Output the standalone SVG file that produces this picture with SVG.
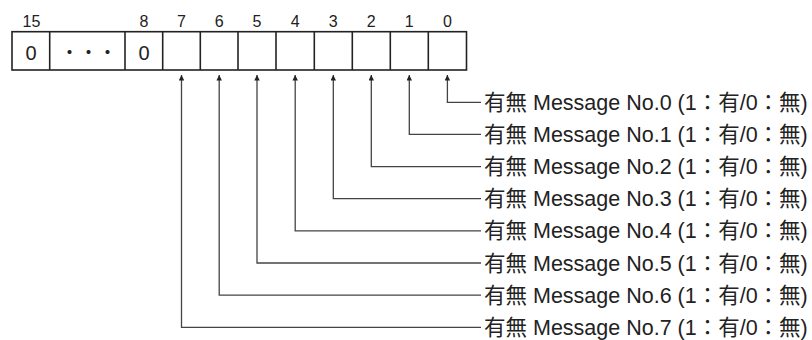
<svg xmlns="http://www.w3.org/2000/svg" width="812" height="340" viewBox="0 0 812 340">
<style>
.box{fill:#fff;stroke:#222;stroke-width:1.6}
.div{stroke:#222;stroke-width:1.6}
.hdr{font-family:"Liberation Sans",Arial,sans-serif;font-size:16px;fill:#222;text-anchor:middle}
.val{font-family:"Liberation Sans",Arial,sans-serif;font-size:20px;fill:#222;text-anchor:middle}
.lbl{font-family:"Liberation Sans","Noto Sans CJK JP",sans-serif;font-size:21.5px;fill:#222}
.con{fill:none;stroke:#444;stroke-width:1.3}
</style>
<defs>
<marker id="ah" viewBox="0 0 10 10" refX="10" refY="5" markerWidth="8" markerHeight="5.5" markerUnits="userSpaceOnUse" orient="auto">
<path d="M0,0 L10,5 L0,10 Z" fill="#222"/>
</marker>
</defs>
<g id="register">
<rect class="box" x="12" y="31.7" width="454.5" height="38.3"/>
<line class="div" x1="49.7" y1="31.7" x2="49.7" y2="70"/>
<line class="div" x1="125" y1="31.7" x2="125" y2="70"/>
<line class="div" x1="162.7" y1="31.7" x2="162.7" y2="70"/>
<line class="div" x1="200.3" y1="31.7" x2="200.3" y2="70"/>
<line class="div" x1="238" y1="31.7" x2="238" y2="70"/>
<line class="div" x1="276" y1="31.7" x2="276" y2="70"/>
<line class="div" x1="314.3" y1="31.7" x2="314.3" y2="70"/>
<line class="div" x1="352.3" y1="31.7" x2="352.3" y2="70"/>
<line class="div" x1="390.3" y1="31.7" x2="390.3" y2="70"/>
<line class="div" x1="428.3" y1="31.7" x2="428.3" y2="70"/>
<text class="hdr" x="31.5" y="26.5">15</text>
<text class="hdr" x="144" y="26.5">8</text>
<text class="hdr" x="181.5" y="26.5">7</text>
<text class="hdr" x="219.2" y="26.5">6</text>
<text class="hdr" x="257" y="26.5">5</text>
<text class="hdr" x="295.2" y="26.5">4</text>
<text class="hdr" x="333.3" y="26.5">3</text>
<text class="hdr" x="371.3" y="26.5">2</text>
<text class="hdr" x="409.3" y="26.5">1</text>
<text class="hdr" x="447.4" y="26.5">0</text>
<text class="val" x="31" y="60">0</text>
<text class="val" x="144" y="60">0</text>
<text x="88.5" y="60" style="font-family:'Noto Sans CJK JP',sans-serif;font-size:19px;fill:#222;text-anchor:middle">・・・</text>
</g>
<g id="connectors">
<polyline class="con" points="481,102.3 447.4,102.3 447.4,75" marker-end="url(#ah)"/>
<polyline class="con" points="481,134.4 409.3,134.4 409.3,75" marker-end="url(#ah)"/>
<polyline class="con" points="481,166.6 371.3,166.6 371.3,75" marker-end="url(#ah)"/>
<polyline class="con" points="481,198.7 333.3,198.7 333.3,75" marker-end="url(#ah)"/>
<polyline class="con" points="481,230.9 295.2,230.9 295.2,75" marker-end="url(#ah)"/>
<polyline class="con" points="481,263 257,263 257,75" marker-end="url(#ah)"/>
<polyline class="con" points="481,295.2 219.2,295.2 219.2,75" marker-end="url(#ah)"/>
<polyline class="con" points="481,327.3 181.5,327.3 181.5,75" marker-end="url(#ah)"/>
</g>
<g id="labels">
<text id="label0" class="lbl" x="484" y="109.8">有無 Message No.0 (1：有/0：無)</text>
<text id="label1" class="lbl" x="484" y="141.9">有無 Message No.1 (1：有/0：無)</text>
<text id="label2" class="lbl" x="484" y="174.1">有無 Message No.2 (1：有/0：無)</text>
<text id="label3" class="lbl" x="484" y="206.2">有無 Message No.3 (1：有/0：無)</text>
<text id="label4" class="lbl" x="484" y="238.4">有無 Message No.4 (1：有/0：無)</text>
<text id="label5" class="lbl" x="484" y="270.5">有無 Message No.5 (1：有/0：無)</text>
<text id="label6" class="lbl" x="484" y="302.7">有無 Message No.6 (1：有/0：無)</text>
<text id="label7" class="lbl" x="484" y="334.8">有無 Message No.7 (1：有/0：無)</text>
</g>
</svg>
